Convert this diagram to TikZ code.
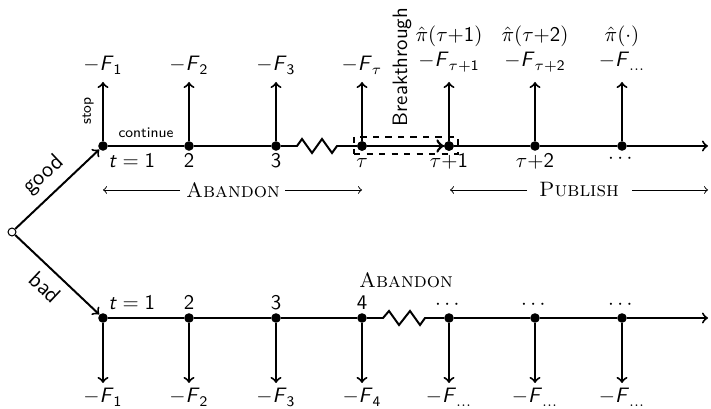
\documentclass[tikz,border=0pt]{standalone}
\usepackage{amsmath}
\usetikzlibrary{calc}
\newcommand{\Fv}{\textsf{\textit{F}}}
\newcommand{\sn}[1]{\textsf{#1}}
\newcommand{\tv}{\textsf{\textit{t}}}
\begin{document}
\begin{tikzpicture}[x=0.48pt,y=-0.48pt,font=\sffamily,
  dot/.style={circle,fill,inner sep=0pt,minimum size=4.6pt},
  rootc/.style={circle,draw,fill=white,inner sep=0pt,minimum size=3.8pt,line width=0.5pt},
  axis/.style={line width=0.95pt},
  payoff/.style={line width=0.95pt,->},
  lab/.style={inner sep=0pt,anchor=base},
  brace/.style={line width=0.45pt},
  branchlab/.style={font=\sffamily\fontsize{11}{13}\selectfont,sloped,inner sep=4pt},
  sc/.style={font=\rmfamily\scshape,inner sep=0pt}]
\useasboundingbox (0,0) rectangle (711,409);

% root
\node[rootc] (r) at (12,232) {};

% nodes
\foreach \i/\x in {1/103,2/189,3/276,4/362,5/449,6/535,7/622}{
  \node[dot] (g\i) at (\x,146) {};
  \node[dot] (b\i) at (\x,318) {};
  \coordinate (gu\i) at (\x,82);
  \coordinate (bd\i) at (\x,383);
}
\coordinate (gend) at (708,146);
\coordinate (bend) at (708,318);

% branches
\draw[axis,->] (r) -- node[branchlab,above] (lgood) {good} (g1);
\draw[axis,->] (r) -- node[branchlab,below] (lbad) {bad} (b1);

% good axis with zigzag
\draw[axis] (g1) -- (g2) -- (g3) -- (297,146) -- (302,139) -- (312,153) -- (322,139) -- (332,153) -- (337,146) -- (g4) -- (g5) -- (g6) -- (g7);
\draw[axis,->] (g7) -- (gend);
% bad axis with zigzag
\draw[axis] (b1) -- (b2) -- (b3) -- (b4) -- (383,318) -- (389,311) -- (399,325) -- (410,311) -- (420,325) -- (425,318) -- (b5) -- (b6) -- (b7);
\draw[axis,->] (b7) -- (bend);

% payoff arrows
\foreach \i in {1,...,7}{
  \draw[payoff] (g\i) -- (gu\i);
  \draw[payoff] (b\i) -- (bd\i);
}

% breakthrough
\draw[line width=1.3pt,->] (g4) -- (g5);
\node[draw,dashed,line width=0.8pt,inner sep=0pt,minimum width=49.9pt,minimum height=8.2pt] (bbox) at (406,145.5) {};
\node[rotate=90] (bt) at (402,67) {Breakthrough};

% re-draw dots on top
\foreach \i in {4,5}{ \node[dot] at (g\i) {}; }

\node[font=\sffamily\scriptsize,inner sep=0pt] (cont) at (146,133) {continue};
\node[font=\sffamily\scriptsize,inner sep=0pt,rotate=90] (stop) at (88,111) {stop};

% top labels good
\node[lab] (tg1) at (103,71) {$-\Fv_{\sn{1}}$};
\node[lab] (tg2) at (189,71) {$-\Fv_{\sn{2}}$};
\node[lab] (tg3) at (276,71) {$-\Fv_{\sn{3}}$};
\node[lab] (tg4) at (362,71) {$-\Fv_{\tau}$};
\node[lab] (tg5) at (449,67) {$-\Fv_{\tau+\sn{1}}$};
\node[lab] (tg6) at (535,67) {$-\Fv_{\tau+\sn{2}}$};
\node[lab] (tg7) at (622,67) {$-\Fv_{\dots}$};
\node[lab] (pg5) at (449,42) {$\hat{\pi}(\tau{+}\sn{1})$};
\node[lab] (pg6) at (535,42) {$\hat{\pi}(\tau{+}\sn{2})$};
\node[lab] (pg7) at (622,42) {$\hat{\pi}(\cdot)$};

% good row time labels
\node[lab,anchor=base west] (lg1) at (108,168) {$\tv=\sn{1}$};
\node[lab] (lg2) at (189,168) {\sn{2}};
\node[lab] (lg3) at (276,168) {\sn{3}};
\node[lab] (lg4) at (362,168) {$\tau$};
\node[lab] (lg5) at (449,168) {$\tau{+}\sn{1}$};
\node[lab] (lg6) at (535,168) {$\tau{+}\sn{2}$};
\node[inner sep=0pt] (lg7) at (622,159) {$\cdots$};

% bad row time labels
\node[lab,anchor=base west] (lb1) at (108,310) {$\tv=\sn{1}$};
\node[lab] (lb2) at (189,310) {\sn{2}};
\node[lab] (lb3) at (276,310) {\sn{3}};
\node[lab] (lb4) at (362,310) {\sn{4}};
\node[inner sep=0pt] (lb5) at (449,305) {$\cdots$};
\node[inner sep=0pt] (lb6) at (535,305) {$\cdots$};
\node[inner sep=0pt] (lb7) at (622,305) {$\cdots$};

% bottom labels bad
\node[lab] (db1) at (103,403) {$-\Fv_{\sn{1}}$};
\node[lab] (db2) at (189,403) {$-\Fv_{\sn{2}}$};
\node[lab] (db3) at (276,403) {$-\Fv_{\sn{3}}$};
\node[lab] (db4) at (362,403) {$-\Fv_{\sn{4}}$};
\node[lab] (db5) at (449,403) {$-\Fv_{\dots}$};
\node[lab] (db6) at (535,403) {$-\Fv_{\dots}$};
\node[lab] (db7) at (622,403) {$-\Fv_{\dots}$};

% Abandon / Publish braces
\coordinate (a1) at (103,190); \coordinate (a2) at (180,190);
\coordinate (a3) at (285,190); \coordinate (a4) at (362,190);
\draw[brace,->] (a2) -- (a1);
\draw[brace,->] (a3) -- (a4);
\node[sc] (aband) at (233,190) {Abandon};
\coordinate (p1) at (450,190); \coordinate (p2) at (527,190);
\coordinate (p3) at (632,190); \coordinate (p4) at (708,190);
\draw[brace,->] (p2) -- (p1);
\draw[brace,->] (p3) -- (p4);
\node[sc] (publ) at (579,190) {Publish};

\node[sc] (aband2) at (406,280) {Abandon};
\end{tikzpicture}
\end{document}
